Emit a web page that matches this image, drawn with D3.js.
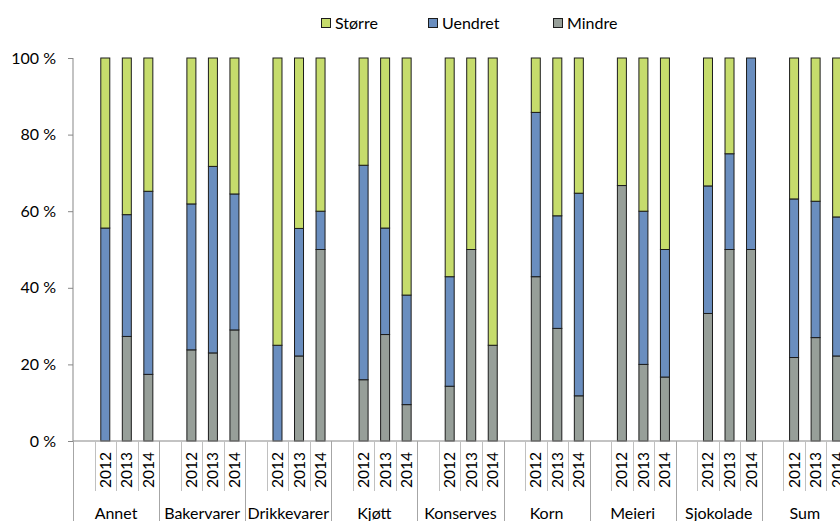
<!DOCTYPE html>
<html><head><meta charset="utf-8">
<script src="https://cdn.jsdelivr.net/npm/d3@7"></script>
<style>
html,body{margin:0;padding:0;background:#fff;}
svg{display:block;font-family:Lato,"Open Sans",sans-serif;}
</style></head>
<body>
<svg id="chart" width="840" height="521"></svg>
<script>
const categories = ["Annet","Bakervarer","Drikkevarer","Kjøtt","Konserves","Korn","Meieri","Sjokolade","Sum"];
const years = ["2012","2013","2014"];
const seriesNames = ["Større","Uendret","Mindre"];
const mindre  = [0,27.3,17.4, 23.8,23.0,29.0, 0,22.2,50, 16,27.8,9.5, 14.3,50,25, 42.9,29.4,11.8, 66.7,20,16.7, 33.3,50,50, 21.8,27.0,22.2];
const uendret = [55.6,31.8,47.8, 38.1,48.7,35.5, 25,33.3,10, 56,27.8,28.6, 28.6,0,0, 42.9,29.4,52.9, 0,40,33.3, 33.3,25,50, 41.4,35.6,36.3];
const storre  = [44.4,40.9,34.8, 38.1,28.3,35.5, 75,44.5,40, 28,44.4,61.9, 57.1,50,75, 14.2,41.2,35.3, 33.3,40,50, 33.4,25,0, 36.8,37.4,41.5];
const yTicks = [0,0.2,0.4,0.6,0.8,1];

const colors = {"Større":"#c6dc6c","Uendret":"#6a8ebf","Mindre":"#979f99"};

const svg = d3.select("#chart");
const x0 = 73, slot = 21.525, yTop = 58, yBot = 441;

// build slot keys: each category has a blank slot then three years
const slots = [];
categories.forEach(c => { slots.push(c+"|"); years.forEach(yr => slots.push(c+"|"+yr)); });
const x = d3.scaleBand().domain(slots).range([x0, x0 + slots.length*slot]).padding(0);
const y = d3.scaleLinear().domain([0,1]).range([yBot, yTop]);

const rows = [];
categories.forEach((c,i) => years.forEach((yr,j) => {
  const k = i*3+j;
  rows.push({key:c+"|"+yr, "Mindre":mindre[k], "Uendret":uendret[k], "Større":storre[k]});
}));
const stack = d3.stack().keys(["Mindre","Uendret","Større"]).offset(d3.stackOffsetExpand);
const stacked = stack(rows);

const barW = 9;
const g = svg.append("g");
stacked.forEach(s => {
  g.selectAll(null).data(s).join("rect")
    .attr("x", d => x(d.data.key) + x.bandwidth()/2 - barW/2)
    .attr("width", barW)
    .attr("y", d => y(d[1]))
    .attr("height", d => Math.max(0, y(d[0]) - y(d[1])))
    .attr("fill", colors[s.key])
    .attr("stroke", "#1c1c1c")
    .attr("stroke-width", 1);
});

// y axis
const yAxis = d3.axisLeft(y).tickValues(yTicks).tickSize(5).tickPadding(12)
  .tickFormat(d => Math.round(d*100) + " %");
const ya = svg.append("g").attr("transform", `translate(${x0},0)`).call(yAxis);
ya.select(".domain").attr("stroke","#878787").attr("d", `M0,${yTop}V${yBot}`);
ya.selectAll(".tick line").attr("stroke","#878787");
ya.selectAll(".tick text").attr("font-size","16px").attr("fill","#000")
  .attr("font-family","Lato,'Open Sans',sans-serif");

// x axis baseline
svg.append("line").attr("x1", x0).attr("x2", 840).attr("y1", yBot).attr("y2", yBot)
  .attr("stroke","#878787");

// slot separators
const sepG = svg.append("g");
slots.forEach((s, i) => {
  const isGroup = i % 4 === 0;
  const xx = Math.round(x(s)) + 0.5;
  sepG.append("line").attr("x1", xx).attr("x2", xx).attr("y1", yBot)
    .attr("y2", isGroup ? 521 : 491)
    .attr("stroke", isGroup ? "#a6a6a6" : "#c0c0c0");
});
// closing line after last slot
// year labels
rows.forEach(r => {
  const cx = x(r.key) + x.bandwidth()/2;
  svg.append("text").attr("transform", `translate(${cx+5.5},452) rotate(-90)`)
    .attr("text-anchor","end").attr("font-size","15.5px").attr("fill","#000")
    .text(r.key.split("|")[1]);
});
// category labels
categories.forEach(c => {
  const cx = x(c+"|") + 2*slot;
  svg.append("text").attr("x", cx).attr("y", 519).attr("text-anchor","middle")
    .attr("font-size","16px").attr("fill","#000").text(c);
});

// legend
const legendX = [321, 428, 553];
seriesNames.forEach((n,i) => {
  svg.append("rect").attr("x", legendX[i]+0.5).attr("y", 18.5).attr("width", 9).attr("height", 9)
    .attr("fill", colors[n]).attr("stroke","#1c1c1c");
  svg.append("text").attr("x", legendX[i]+14).attr("y", 28.5).attr("font-size","16px")
    .attr("fill","#000").text(n);
});
</script>
</body></html>
